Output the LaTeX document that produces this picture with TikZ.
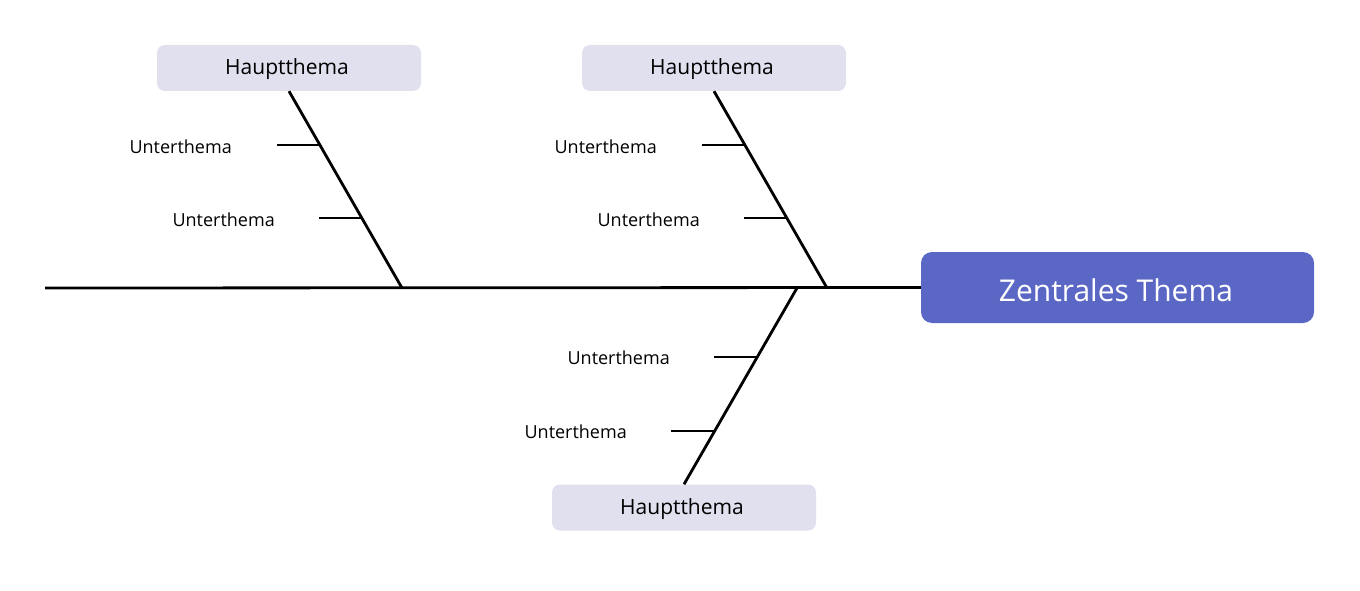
\documentclass[tikz,border=0pt]{standalone}
\usepackage{fontspec}
\setmainfont{Open Sans}
\definecolor{central}{HTML}{5B67C4}
\definecolor{mainbg}{HTML}{E0E0EE}
\begin{document}
\begin{tikzpicture}[x=1pt,y=-1pt,
  bone/.style={line width=2.8pt,black},
  mainbox/.style={fill=mainbg,rounded corners=8pt,minimum width=264pt,minimum height=46pt,inner sep=0pt},
  maintext/.style={inner sep=0pt,font=\fontsize{21}{24}\selectfont},
  centralbox/.style={fill=central,rounded corners=11pt,minimum width=393pt,minimum height=71pt,inner sep=0pt},
  centraltext/.style={inner sep=0pt,text=white,font=\fontsize{30}{34}\selectfont},
  sublabel/.style={anchor=east,inner sep=0pt,font=\fontsize{18}{21}\selectfont}]
\useasboundingbox (0,0) rectangle (1360,591);
% nodes
\node[centralbox] (zt) at (1117.5,287.5) {};
\node[centraltext] (ztt) at (1116,290) {Zentrales Thema};
\node[mainbox] (h1) at (289,68) {};
\node[mainbox] (h2) at (714,68) {};
\node[mainbox] (h3) at (684,507.5) {};
\node[maintext] (h1t) at (287,69.5) {Hauptthema};
\node[maintext] (h2t) at (712,69.5) {Hauptthema};
\node[maintext] (h3t) at (682,509) {Hauptthema};
% spine points
\coordinate (s0) at (45,288);
\coordinate (j1) at (402,288);
\coordinate (j2) at (827,288);
\coordinate (j3) at (797,288);
\draw[bone] (s0) -- (zt.west);
% main bones
\draw[bone] (h1.south) -- (j1);
\draw[bone] (h2.south) -- (j2);
\draw[bone] (h3.north) -- (j3);
% sub bones
\coordinate (a1) at (320,145); \coordinate (a1e) at (277,145);
\coordinate (a2) at (362,218); \coordinate (a2e) at (319,218);
\coordinate (b1) at (745,145); \coordinate (b1e) at (702,145);
\coordinate (b2) at (787,218); \coordinate (b2e) at (744,218);
\coordinate (c1) at (757,357); \coordinate (c1e) at (714,357);
\coordinate (c2) at (715,431); \coordinate (c2e) at (671,431);
\draw[bone] (a1e) -- (a1);
\draw[bone] (a2e) -- (a2);
\draw[bone] (b1e) -- (b1);
\draw[bone] (b2e) -- (b2);
\draw[bone] (c1e) -- (c1);
\draw[bone] (c2e) -- (c2);
% labels
\node[sublabel] (la1) at (232,147) {Unterthema};
\node[sublabel] (la2) at (275,220) {Unterthema};
\node[sublabel] (lb1) at (657,147) {Unterthema};
\node[sublabel] (lb2) at (700,220) {Unterthema};
\node[sublabel] (lc1) at (670,358) {Unterthema};
\node[sublabel] (lc2) at (627,432) {Unterthema};
\end{tikzpicture}
\end{document}
